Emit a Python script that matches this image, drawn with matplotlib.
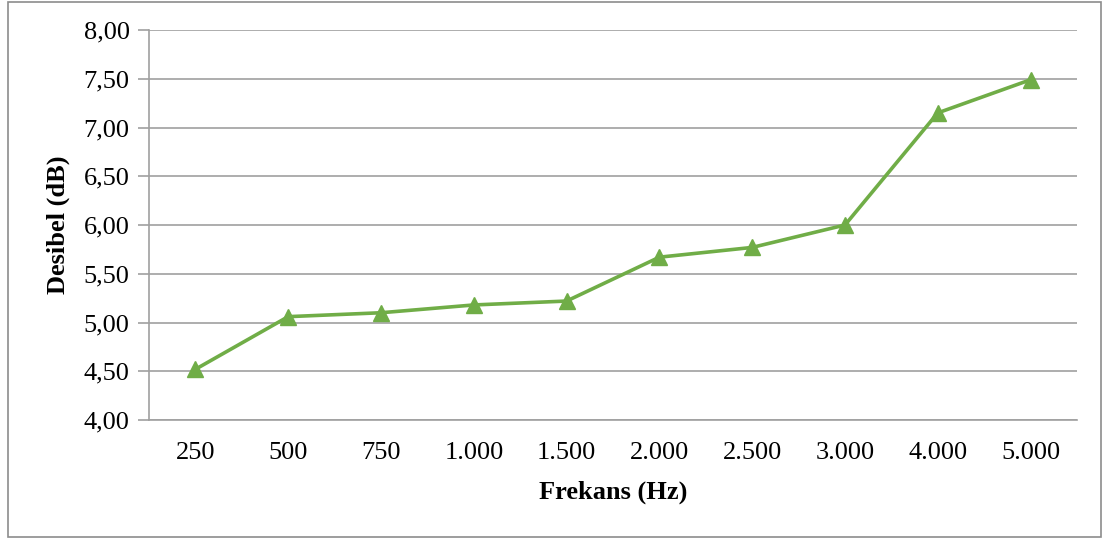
import matplotlib.pyplot as plt
from matplotlib.patches import Rectangle
from matplotlib.ticker import FuncFormatter

# Veriler
frekans = ["250", "500", "750", "1.000", "1.500", "2.000", "2.500", "3.000", "4.000", "5.000"]
desibel = [4.52, 5.06, 5.10, 5.18, 5.22, 5.67, 5.77, 6.00, 7.15, 7.49]

plt.rcParams["font.family"] = ["Liberation Serif", "DejaVu Serif"]

fig = plt.figure(figsize=(11.07, 5.4), dpi=100)
ax = fig.add_axes([149 / 1107, 1 - 420 / 540, (1077 - 149) / 1107, 390 / 540])

x = list(range(len(frekans)))
ax.plot(x, desibel, color="#70AD47", linewidth=2.6, marker="^", markersize=11)

ax.set_xlim(-0.5, len(frekans) - 0.5)
ax.set_ylim(4, 8)
ax.set_yticks([4 + 0.5 * i for i in range(9)])
ax.yaxis.set_major_formatter(FuncFormatter(lambda v, p: f"{v:.2f}".replace(".", ",")))
ax.set_xticks(x)
ax.set_xticklabels(frekans)

ax.grid(axis="y", color="#A0A0A0", linewidth=1.2)
ax.set_axisbelow(True)
for s in ["top", "right"]:
    ax.spines[s].set_visible(False)
for s in ["left", "bottom"]:
    ax.spines[s].set_color("#A0A0A0")
    ax.spines[s].set_linewidth(1.2)

ax.tick_params(axis="y", length=8, width=1.2, color="#A0A0A0", labelsize=19, pad=6)
ax.tick_params(axis="x", length=0, labelsize=19, pad=16)

ax.set_xlabel("Frekans (Hz)", fontsize=19, fontweight="bold", labelpad=12)
ax.set_ylabel("Desibel (dB)", fontsize=19, fontweight="bold", labelpad=10)

fig.patches.append(Rectangle((7.5 / 1107, 3 / 540), 1093 / 1107, 535 / 540,
                             transform=fig.transFigure, fill=False,
                             edgecolor="#8C8C8C", linewidth=1.2))

fig.savefig("out.png", dpi=100)
